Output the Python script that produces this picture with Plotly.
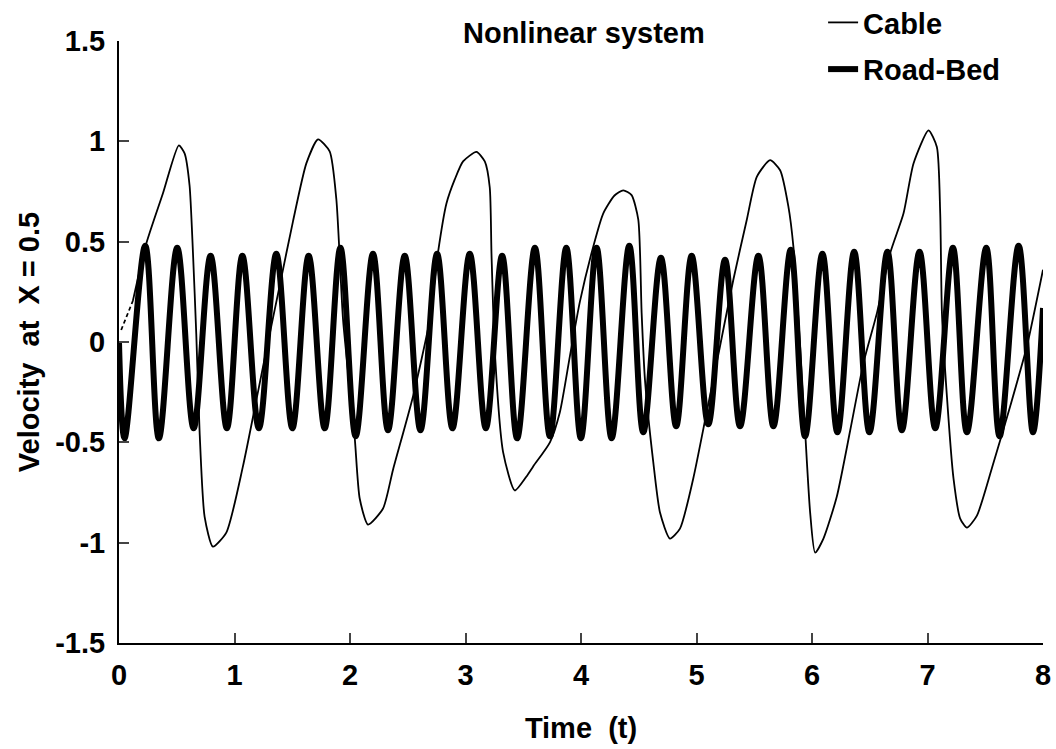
import plotly.graph_objects as go

# ---- data ----
road_t = [0.0, 0.048, 0.227, 0.345, 0.504, 0.646, 0.793, 0.934, 1.068, 1.211, 1.362, 1.501,
          1.642, 1.781, 1.917, 2.049, 2.199, 2.329, 2.474, 2.610, 2.754, 2.887, 3.037, 3.176,
          3.317, 3.447, 3.601, 3.731, 3.873, 3.999, 4.135, 4.265, 4.418, 4.539, 4.692, 4.824,
          4.958, 5.102, 5.247, 5.377, 5.536, 5.666, 5.816, 5.940, 6.090, 6.220, 6.365, 6.497,
          6.653, 6.778, 6.931, 7.067, 7.220, 7.341, 7.509, 7.624, 7.789, 7.913, 8.0]
road_v = [0.0, -0.48, 0.48, -0.48, 0.47, -0.43, 0.43, -0.43, 0.43, -0.43, 0.44, -0.43,
          0.43, -0.43, 0.47, -0.47, 0.44, -0.44, 0.43, -0.44, 0.44, -0.43, 0.44, -0.43,
          0.43, -0.48, 0.47, -0.47, 0.47, -0.48, 0.47, -0.48, 0.48, -0.45, 0.42, -0.42,
          0.43, -0.41, 0.41, -0.42, 0.43, -0.42, 0.46, -0.47, 0.44, -0.45, 0.45, -0.45,
          0.45, -0.44, 0.45, -0.43, 0.47, -0.45, 0.47, -0.47, 0.48, -0.45, 0.17]

cable_t = [0.019, 0.12, 0.236, 0.38, 0.518, 0.568, 0.611, 0.64, 0.669, 0.698, 0.741, 0.813,
           0.929, 1.073, 1.189, 1.276, 1.391, 1.506, 1.622, 1.723, 1.824, 1.882, 1.94, 2.04,
           2.084, 2.156, 2.286, 2.373, 2.546, 2.69, 2.763, 2.835, 2.907, 2.979, 3.095, 3.167,
           3.21, 3.225, 3.254, 3.326, 3.427, 3.528, 3.586, 3.731, 3.817, 3.904, 3.99, 4.106,
           4.192, 4.29, 4.366, 4.438, 4.496, 4.525, 4.554, 4.626, 4.684, 4.77, 4.857, 4.972,
           5.088, 5.204, 5.319, 5.435, 5.522, 5.637, 5.724, 5.795, 5.839, 5.897, 5.94, 5.984,
           6.027, 6.099, 6.215, 6.331, 6.446, 6.562, 6.677, 6.792, 6.879, 7.009, 7.081, 7.11,
           7.125, 7.168, 7.225, 7.283, 7.341, 7.428, 7.572, 7.716, 7.861, 8.0]
cable_v = [0.06, 0.205, 0.49, 0.74, 0.98, 0.94, 0.78, 0.45, 0.04, -0.45, -0.87, -1.02,
           -0.95, -0.62, -0.29, -0.04, 0.28, 0.60, 0.89, 1.01, 0.95, 0.71, 0.11, -0.47,
           -0.78, -0.91, -0.83, -0.635, -0.27, 0.11, 0.45, 0.69, 0.81, 0.90, 0.947, 0.90,
           0.77, 0.44, -0.05, -0.55, -0.74, -0.67, -0.62, -0.50, -0.35, -0.07, 0.20, 0.475,
           0.64, 0.73, 0.756, 0.732, 0.61, 0.144, -0.19, -0.60, -0.85, -0.98, -0.93, -0.68,
           -0.35, -0.02, 0.31, 0.608, 0.823, 0.906, 0.856, 0.677, 0.475, -0.02, -0.44, -0.85,
           -1.05, -0.98, -0.77, -0.44, -0.104, 0.144, 0.443, 0.64, 0.89, 1.055, 0.972, 0.64,
           0.144, -0.27, -0.68, -0.88, -0.925, -0.865, -0.60, -0.32, -0.02, 0.36]

y_ticks = [-1.5, -1, -0.5, 0, 0.5, 1, 1.5]
y_tick_text = ["-1.5", "-1", "-0.5", "0", "0.5", "1", "1.5"]
x_ticks = [0, 1, 2, 3, 4, 5, 6, 7, 8]

FONT = "Liberation Sans, Arial, sans-serif"
FS = 29
TXT = dict(family=FONT, size=FS, color="black", weight="bold")

fig = go.Figure()
# dashed initial piece of cable curve
fig.add_trace(go.Scatter(x=cable_t[:2], y=cable_v[:2], mode="lines",
                         line=dict(color="black", width=1.8, dash="4px,3px"),
                         showlegend=False, hoverinfo="skip"))
fig.add_trace(go.Scatter(x=cable_t[1:], y=cable_v[1:], mode="lines", name="Cable",
                         line=dict(color="black", width=1.8, shape="spline", smoothing=0.6),
                         legendgroup="a"))
fig.add_trace(go.Scatter(x=road_t, y=road_v, mode="lines", name="Road-Bed",
                         line=dict(color="black", width=6, shape="spline", smoothing=1.0),
                         legendgroup="b"))

fig.update_layout(
    width=1056, height=749,
    margin=dict(l=119, r=13, t=41, b=106, autoexpand=False),
    paper_bgcolor="white", plot_bgcolor="white",
    font=TXT,
    showlegend=True,
    legend=dict(x=0.762, y=1.073, xanchor="left", yanchor="top",
                bgcolor="rgba(0,0,0,0)", font=TXT,
                tracegroupgap=6, traceorder="grouped", itemwidth=30),
    annotations=[dict(text="Nonlinear system", x=0.503, y=1.013, xref="paper", yref="paper",
                      xanchor="center", yanchor="middle", showarrow=False,
                      font=TXT)],
)
fig.update_xaxes(range=[0, 8], tickvals=x_ticks, ticks="inside", ticklen=10, tickwidth=2,
                 showline=True, linecolor="black", linewidth=2, showgrid=False, zeroline=False,
                 tickfont=TXT, ticklabelstandoff=5,
                 title=dict(text="Time  (t)", font=TXT, standoff=28))
fig.update_yaxes(range=[-1.5, 1.5], tickvals=y_ticks, ticktext=y_tick_text, ticks="inside",
                 ticklen=10, tickwidth=2, showline=True, linecolor="black", linewidth=2,
                 showgrid=False, zeroline=False, tickfont=TXT, ticklabelstandoff=6,
                 title=dict(text="Velocity  at  X = 0.5", font=TXT, standoff=7))

fig.write_html("out.html")
